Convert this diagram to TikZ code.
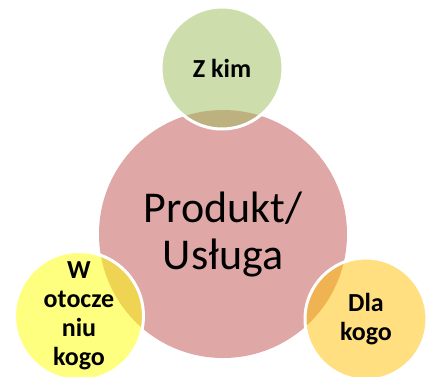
\documentclass[tikz,border=0pt]{standalone}
\usepackage{fontspec}
\setmainfont{Carlito}
\usepackage{xcolor}
\usepackage{tikz}

\definecolor{prodred}{HTML}{C0504D}
\definecolor{kimgreen}{HTML}{9BBB59}
\definecolor{envyellow}{HTML}{FFFF00}
\definecolor{fororange}{HTML}{FFC000}

\begin{document}
\begin{tikzpicture}[
    x=1pt, y=-1pt,
    core/.style={circle, fill=prodred, fill opacity=0.5, text opacity=1, minimum size=248pt, inner sep=0pt, align=center, font=\fontsize{44}{47}\selectfont},
    side/.style={circle, draw=white, line width=3pt, fill opacity=0.5, text opacity=1, minimum size=122pt, inner sep=0pt, align=center, font=\fontsize{26}{29}\selectfont\bfseries}
]
\useasboundingbox (0,0) rectangle (432,376);

% Product in the middle
\node[core] (produkt) at (223,234) {Produkt/\\Usługa};

% With whom
\node[side, fill=kimgreen] (zkim) at (222,68) {Z kim};

% Surroundings
\node[side, fill=envyellow] (otoczenie) at (79,316) {W\\otocze\\niu\\kogo};

% For whom
\node[side, fill=fororange] (dlakogo) at (366,319) {Dla\\kogo};

\end{tikzpicture}
\end{document}
